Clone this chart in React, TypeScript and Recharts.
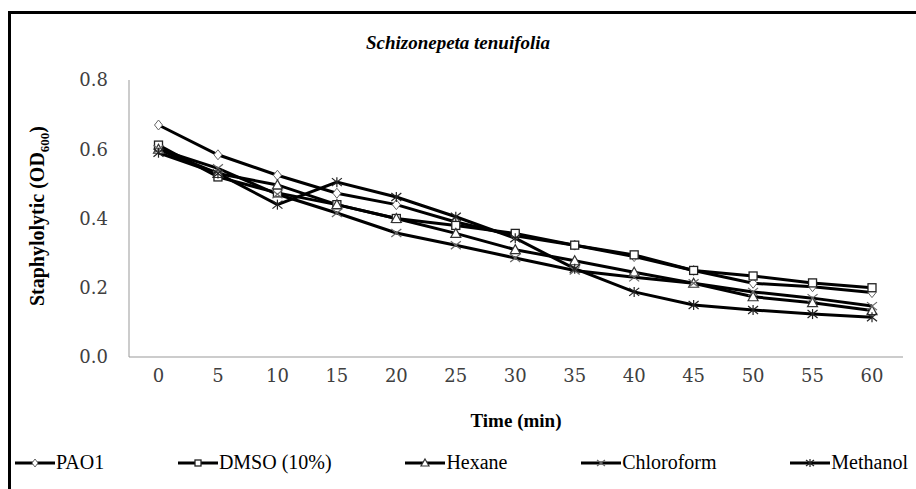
import { LineChart, Line, XAxis, YAxis } from 'recharts'

const times = ['0', '5', '10', '15', '20', '25', '30', '35', '40', '45', '50', '55', '60']
const pao1 = [0.67, 0.584, 0.525, 0.473, 0.44, 0.39, 0.35, 0.323, 0.29, 0.25, 0.213, 0.203, 0.186]
const dmso = [0.612, 0.52, 0.474, 0.44, 0.4, 0.38, 0.357, 0.323, 0.295, 0.25, 0.234, 0.214, 0.2]
const hexane = [0.6, 0.53, 0.497, 0.44, 0.4, 0.357, 0.31, 0.278, 0.245, 0.213, 0.174, 0.157, 0.134]
const chloroform = [0.6, 0.545, 0.47, 0.416, 0.358, 0.323, 0.286, 0.25, 0.23, 0.213, 0.188, 0.17, 0.147]
const methanol = [0.59, 0.53, 0.44, 0.505, 0.462, 0.405, 0.343, 0.255, 0.188, 0.15, 0.136, 0.124, 0.115]
const yTicks = [0, 0.2, 0.4, 0.6, 0.8]

type Shape = 'diamond' | 'square' | 'triangle' | 'cross' | 'star'

const series: { key: string; name: string; values: number[]; shape: Shape }[] = [
  { key: 'pao1', name: 'PAO1', values: pao1, shape: 'diamond' },
  { key: 'dmso', name: 'DMSO (10%)', values: dmso, shape: 'square' },
  { key: 'hexane', name: 'Hexane', values: hexane, shape: 'triangle' },
  { key: 'chloroform', name: 'Chloroform', values: chloroform, shape: 'cross' },
  { key: 'methanol', name: 'Methanol', values: methanol, shape: 'star' },
]

const data = times.map((t, i) => {
  const row: Record<string, string | number> = { time: t }
  series.forEach(s => { row[s.key] = s.values[i] })
  return row
})

function Marker({ shape, cx, cy, s = 4 }: { shape: Shape; cx: number; cy: number; s?: number }) {
  if (shape === 'diamond')
    return <path d={`M${cx},${cy - s - 1}L${cx + s},${cy}L${cx},${cy + s + 1}L${cx - s},${cy}Z`} fill="#fff" stroke="#666" strokeWidth={1} />
  if (shape === 'square')
    return <rect x={cx - s} y={cy - s} width={s * 2} height={s * 2} fill="#fff" stroke="#222" strokeWidth={1.3} />
  if (shape === 'triangle')
    return <path d={`M${cx},${cy - s - 1}L${cx + s + 1},${cy + s}L${cx - s - 1},${cy + s}Z`} fill="#fff" stroke="#333" strokeWidth={1.2} />
  if (shape === 'cross')
    return (
      <g stroke="#666" strokeWidth={1.2}>
        <line x1={cx - s - 1} y1={cy - s} x2={cx + s + 1} y2={cy + s} />
        <line x1={cx - s - 1} y1={cy + s} x2={cx + s + 1} y2={cy - s} />
      </g>
    )
  return (
    <g stroke="#222" strokeWidth={1.2}>
      <line x1={cx - s - 1} y1={cy - s} x2={cx + s + 1} y2={cy + s} />
      <line x1={cx - s - 1} y1={cy + s} x2={cx + s + 1} y2={cy - s} />
      <line x1={cx} y1={cy - s - 1} x2={cx} y2={cy + s + 1} />
    </g>
  )
}

const serif = "'Liberation Serif', 'Times New Roman', serif"
const tickStyle = { fill: '#404040', fontSize: 18, fontFamily: 'DejaVu Serif' }

export default function App() {
  return (
    <div style={{ position: 'absolute', left: 0, top: 0, width: 916, height: 489, overflow: 'hidden', background: '#fff' }}>
      {/* frame, cut off on the right and bottom */}
      <div style={{ position: 'absolute', left: 8, top: 11, width: 1000, height: 1000, border: '3px solid #000' }} />

      <div style={{ position: 'absolute', left: 0, top: 0 }}>
        <LineChart width={916} height={489} data={data} margin={{ top: 80, right: 13, bottom: 102, left: 69 }}>
          <XAxis dataKey="time" padding={{ left: 29.5, right: 31 }} height={30}
            axisLine={{ stroke: '#999' }} tickLine={false} tickSize={0} tickMargin={12} tick={tickStyle} interval={0} />
          <YAxis domain={[0, 0.8]} ticks={yTicks} width={60} tickFormatter={(v: number) => v.toFixed(1)}
            axisLine={{ stroke: '#999' }} tickLine={false} tickSize={0} tickMargin={21} tick={tickStyle} />
          {series.map(s => (
            <Line key={s.key} dataKey={s.key} name={s.name} type="linear" stroke="#000" strokeWidth={3}
              isAnimationActive={false}
              dot={(p: any) => <Marker key={`${s.key}-${p.index}`} shape={s.shape} cx={p.cx} cy={p.cy} />}
              activeDot={false} />
          ))}
        </LineChart>
      </div>

      {/* chart title */}
      <svg style={{ position: 'absolute', left: 0, top: 0 }} width={916} height={60}>
        <text x={458} y={49} textAnchor="middle" fontFamily="Liberation Serif" fontStyle="italic" fontWeight="bold" fontSize={19} fill="#000">
          Schizonepeta tenuifolia
        </text>
      </svg>

      {/* y axis title */}
      <svg style={{ position: 'absolute', left: 0, top: 0 }} width={80} height={489}>
        <text transform="translate(44,216) rotate(-90)" textAnchor="middle" fontFamily={serif} fontWeight="bold" fontSize={20} fill="#000">
          Staphylolytic (OD<tspan fontSize={13} dy={5}>600</tspan><tspan dy={-5}>)</tspan>
        </text>
      </svg>

      {/* x axis title */}
      <div style={{ position: 'absolute', left: 129, width: 774, top: 410, textAlign: 'center', fontFamily: serif, fontWeight: 'bold', fontSize: 19 }}>
        Time (min)
      </div>

      {/* legend */}
      <div style={{ position: 'absolute', left: 15, width: 893, top: 451, display: 'flex', justifyContent: 'space-between', fontFamily: serif, fontSize: 20 }}>
        {series.map(s => (
          <div key={s.key} style={{ display: 'flex', alignItems: 'center' }}>
            <svg width={40} height={14}>
              <line x1={0} y1={7} x2={40} y2={7} stroke="#000" strokeWidth={3} />
              <Marker shape={s.shape} cx={20} cy={7} s={3} />
            </svg>
            <span style={{ marginLeft: 1 }}>{s.name}</span>
          </div>
        ))}
      </div>
    </div>
  )
}
